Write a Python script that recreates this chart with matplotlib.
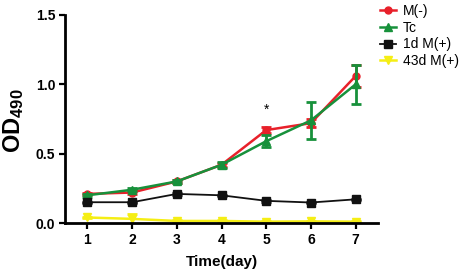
import matplotlib.pyplot as plt
import numpy as np

plt.rcParams['font.family'] = ['Liberation Sans', 'DejaVu Sans']
plt.rcParams['mathtext.fontset'] = 'custom'
plt.rcParams['mathtext.rm'] = 'Liberation Sans'
plt.rcParams['mathtext.bf'] = 'Liberation Sans:bold'
plt.rcParams['mathtext.default'] = 'bf'

# data
days = [1, 2, 3, 4, 5, 6, 7]
m_minus = [0.21, 0.22, 0.30, 0.42, 0.67, 0.72, 1.06]
m_minus_err = [0.01, 0.01, 0.01, 0.015, 0.02, 0.03, 0.08]
tc = [0.20, 0.24, 0.30, 0.42, 0.59, 0.74, 1.00]
tc_err = [0.01, 0.01, 0.01, 0.02, 0.045, 0.135, 0.14]
m1d = [0.15, 0.15, 0.21, 0.20, 0.16, 0.148, 0.171]
m1d_err = [0.005, 0.005, 0.005, 0.005, 0.005, 0.005, 0.005]
m43d = [0.04, 0.03, 0.015, 0.015, 0.01, 0.012, 0.01]
m43d_err = [0.005, 0.035, 0.005, 0.005, 0.005, 0.005, 0.005]
series = ["M(-)", "Tc", "1d M(+)", "43d M(+)"]

fig = plt.figure(figsize=(4.61, 2.72), dpi=100)
ax = fig.add_axes([0.141, 0.18, 0.679, 0.765])

styles = [
    (m_minus, m_minus_err, '#e8202a', 'o', 5, 1.8),
    (tc, tc_err, '#17913b', '^', 5.5, 1.8),
    (m1d, m1d_err, '#111111', 's', 5.5, 1.3),
    (m43d, m43d_err, '#f5ee14', 'v', 5.5, 1.8),
]
for (vals, err, col, mk, ms, lw), name in zip(styles, series):
    ax.errorbar(days, vals, yerr=err, fmt='none', ecolor=col,
                elinewidth=2, capsize=3.5, capthick=2)
    ax.plot(days, vals, color=col, marker=mk, markersize=ms,
            linewidth=lw, label=name)

ax.text(5, 0.82, '*', ha='center', va='center', fontsize=10)

ax.set_xlim(0.5, 7.5)
ax.set_ylim(0, 1.5)
ax.set_xticks(days)
ax.set_yticks([0.0, 0.5, 1.0, 1.5])
ax.set_yticklabels(['0.0', '0.5', '1.0', '1.5'])
for s in ['top', 'right']:
    ax.spines[s].set_visible(False)
for s in ['left', 'bottom']:
    ax.spines[s].set_linewidth(2)
ax.tick_params(width=1.6, length=4, labelsize=10, pad=3)
for lab in ax.get_xticklabels() + ax.get_yticklabels():
    lab.set_fontweight('bold')

ax.set_xlabel('Time(day)', fontsize=11, fontweight='bold', labelpad=6)
ax.set_ylabel('OD$_{490}$', fontsize=17, fontweight='bold', va='center')
ax.yaxis.set_label_coords(-0.165, 0.49)

leg = ax.legend(loc='upper left', bbox_to_anchor=(0.99, 1.08), frameon=False,
                fontsize=10, handlelength=1.1, handletextpad=0.5,
                labelspacing=0.2, borderaxespad=0)

fig.savefig('out.png', dpi=100)
